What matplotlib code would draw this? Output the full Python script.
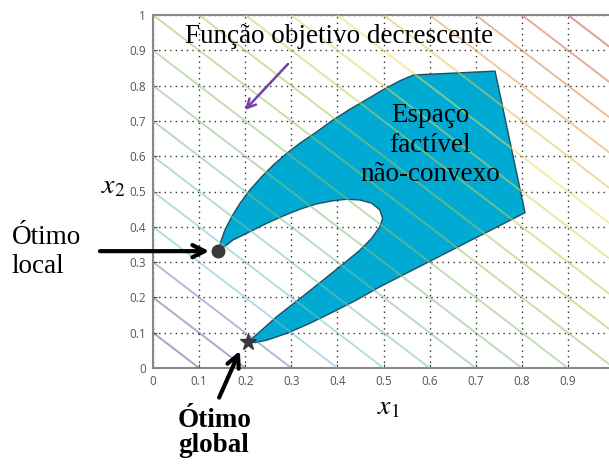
import numpy as np
import matplotlib
matplotlib.use('Agg')
import matplotlib.pyplot as plt
from matplotlib.colors import LinearSegmentedColormap

# objective contour levels (x1 + x2 = c)
levels = [0.1, 0.2, 0.3, 0.4, 0.5, 0.6, 0.7, 0.8, 0.9, 1.0,
          1.1, 1.2, 1.3, 1.4, 1.5, 1.6, 1.7, 1.8, 1.9]

# non-convex feasible region outline (clockwise from local optimum)
# outer upper edge
upper_x = [0.142, 0.147, 0.156, 0.171, 0.189, 0.210, 0.236, 0.261, 0.290, 0.319,
           0.355, 0.391, 0.427, 0.464, 0.500, 0.536, 0.565]
upper_y = [0.331, 0.358, 0.391, 0.429, 0.467, 0.504, 0.542, 0.575, 0.608, 0.637,
           0.669, 0.703, 0.733, 0.761, 0.789, 0.814, 0.830]
# top / right corners and lower outer edge down to the global optimum
outer_x = [0.742, 0.807, 0.492, 0.442, 0.391, 0.341, 0.290, 0.247, 0.221, 0.207]
outer_y = [0.841, 0.440, 0.230, 0.193, 0.159, 0.127, 0.098, 0.079, 0.072, 0.075]
# inner notch, from global optimum back to local optimum
inner_x = [0.232, 0.268, 0.319, 0.369, 0.413, 0.449, 0.474, 0.492, 0.498, 0.492,
           0.474, 0.449, 0.420, 0.391, 0.355, 0.319, 0.283, 0.247, 0.210, 0.174]
inner_y = [0.103, 0.145, 0.197, 0.249, 0.295, 0.334, 0.367, 0.400, 0.424, 0.448,
           0.467, 0.476, 0.478, 0.474, 0.465, 0.450, 0.431, 0.410, 0.386, 0.363]

local_opt = (0.142, 0.331)
global_opt = (0.205, 0.075)

ticks = [0, 0.1, 0.2, 0.3, 0.4, 0.5, 0.6, 0.7, 0.8, 0.9, 1]

matplotlib.rcParams['font.family'] = 'Liberation Serif'
matplotlib.rcParams['mathtext.fontset'] = 'stix'

fig = plt.figure(figsize=(6.09, 4.66), dpi=100)
ax = fig.add_axes([153/609, 98/466, 461/609, 353/466])

# contour lines, faded jet-like colours
cmap = LinearSegmentedColormap.from_list('obj', [
    (0.0, (0.35, 0.35, 0.62)),
    (0.09, (0.42, 0.42, 0.68)),
    (0.17, (0.45, 0.78, 0.85)),
    (0.35, (0.50, 0.74, 0.55)),
    (0.55, (0.62, 0.78, 0.35)),
    (0.72, (0.92, 0.88, 0.35)),
    (0.85, (0.88, 0.60, 0.30)),
    (1.0, (0.75, 0.32, 0.22))])
xx, yy = np.meshgrid(np.linspace(0, 1.05, 300), np.linspace(0, 1, 300))
ax.contour(xx, yy, xx + yy, levels=levels, cmap=cmap, vmin=0.1, vmax=1.9,
           linewidths=1.4, alpha=0.55, zorder=3)

region_x = upper_x + outer_x + inner_x
region_y = upper_y + outer_y + inner_y
ax.fill(region_x, region_y, facecolor='#00AAD2', edgecolor='#1E4E62', lw=1.0,
        joinstyle='round', zorder=2)

ax.plot(*local_opt, 'o', color='#3a3a3a', markersize=9, zorder=5)
ax.plot(*global_opt, '*', color='#3a3a3a', markersize=12, zorder=5)

ax.set_xlim(0, 1)
ax.set_ylim(0, 1)
ax.set_xticks(ticks[:-1])
ax.set_yticks(ticks)
ax.set_xticklabels(['%g' % t for t in ticks[:-1]])
ax.set_yticklabels(['%g' % t for t in ticks])
for lbl in ax.get_xticklabels() + ax.get_yticklabels():
    lbl.set_family('Open Sans')
    lbl.set_fontsize(8.5)
    lbl.set_color('#555555')
ax.tick_params(direction='in', length=3, width=0.8, color='#444444', pad=5)
ax.grid(True, linestyle=(0, (1, 3)), color='#333333', linewidth=1.0, zorder=1)
ax.set_axisbelow(True)
for s in ax.spines.values():
    s.set_color('#888888')
    s.set_linewidth(1.5)

# arrows
ax.annotate('', xy=(0.128, 0.331), xytext=(-0.121, 0.331), annotation_clip=False,
            arrowprops=dict(arrowstyle='->', lw=3, color='black', mutation_scale=22))
ax.annotate('', xy=(0.191, 0.056), xytext=(0.141, -0.091), annotation_clip=False,
            arrowprops=dict(arrowstyle='->', lw=3, color='black', mutation_scale=22))
ax.annotate('', xy=(0.195, 0.725), xytext=(0.297, 0.867),
            arrowprops=dict(arrowstyle='->', lw=1.8, color='#7B3FA8', mutation_scale=16))

# texts
fig.text(185/609, 1 - 43/466, 'Função objetivo decrescente', fontsize=19.5, va='baseline', ha='left')
fig.text(430/609, 1 - 145/466, 'Espaço\nfactível\nnão-convexo', fontsize=19.5,
         ha='center', va='center', linespacing=1.25)
fig.text(12/609, 1 - 252/466, 'Ótimo\nlocal', fontsize=19.5, ha='left', va='center', linespacing=1.25)
fig.text(178/609, 1 - 433/466, 'Ótimo\nglobal', fontsize=19.5, fontweight='bold',
         ha='left', va='center', linespacing=1.0)
fig.text(388/609, 1 - 408/466, r'$x_1$', fontsize=20, ha='center', va='center')
fig.text(113/609, 1 - 187/466, r'$x_2$', fontsize=20, ha='center', va='center')

plt.savefig('out.png', dpi=100)
plt.close()
